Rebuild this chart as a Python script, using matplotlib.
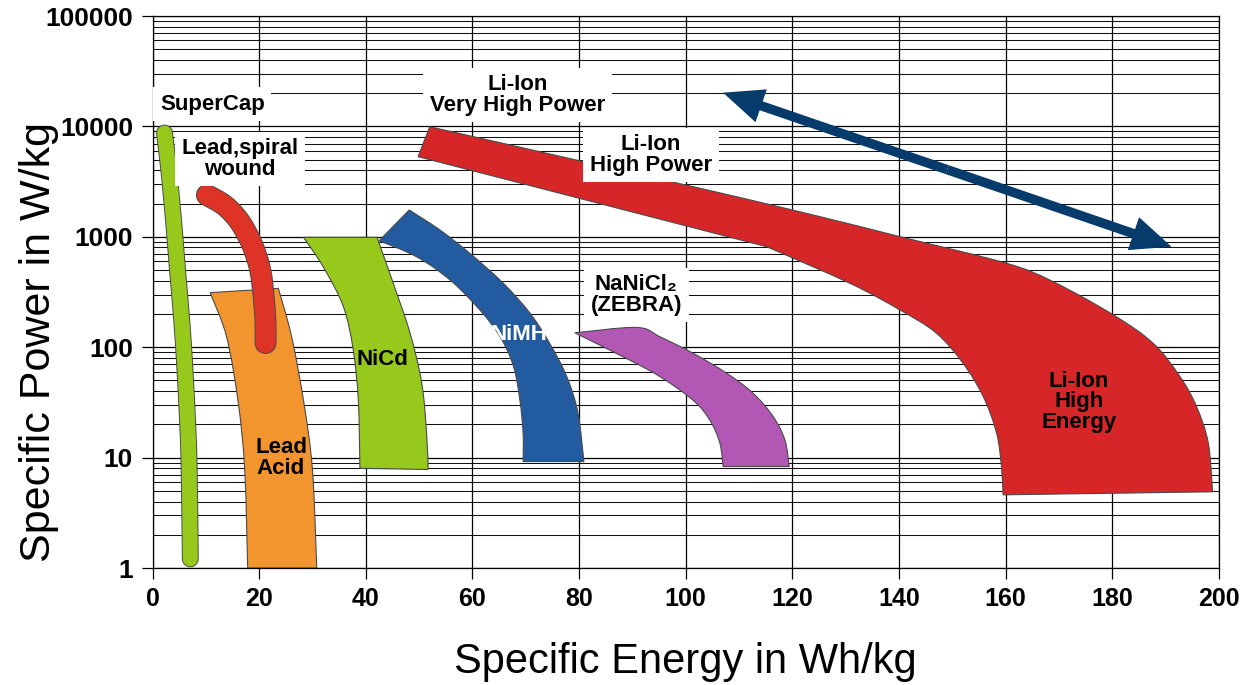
import matplotlib
matplotlib.use("Agg")
import numpy as np
import matplotlib.pyplot as plt
import matplotlib.patheffects as pe
from matplotlib.path import Path
from matplotlib.patches import PathPatch
from matplotlib.ticker import FixedLocator, LogLocator, NullFormatter

plt.rcParams['font.family'] = ['Liberation Sans', 'DejaVu Sans']

# ---- Ragone data: specific energy (Wh/kg) vs specific power (W/kg) ----
# Tube-shaped regions (centre line)
supercap_energy = [2.25, 3.0, 3.6, 4.2, 4.69, 5.5, 6.09, 6.6, 6.88, 7.09]
supercap_power = [8710, 4300, 2155, 1000, 500, 170, 62, 20, 7.7, 1.21]

spiral_energy = [10.2, 13.6, 16.4, 18.7, 20.2, 20.9, 21.2, 21.2]
spiral_power = [2390, 1910, 1360, 845, 500, 268, 159, 109]

# Band-shaped regions: two curved edges joined by straight ends
lead_left_energy = [10.8, 13.9, 16.1, 17.3, 17.85]
lead_left_power = [312, 124, 31, 7.7, 1.0]
lead_right_energy = [30.8, 30.0, 28.4, 26.1, 23.6]
lead_right_power = [1.0, 7.7, 31, 124, 341]

nicd_left_energy = [28.3, 32.0, 35.8, 37.65, 38.6, 38.9]
nicd_left_power = [990, 536, 233, 94, 33, 8.0]
nicd_right_energy = [51.7, 51.4, 50.5, 48.3, 45.15, 42.1]
nicd_right_power = [7.8, 16.6, 47, 134, 379, 990]

nimh_outer_energy = [48.15, 53.9, 59.5, 65.8, 70.8, 74.5, 77.7, 79.8, 80.9]
nimh_outer_power = [1750, 1153, 709, 379, 203, 108, 54, 25.2, 9.2]
nimh_inner_energy = [69.5, 69.5, 68.9, 67.7, 65.2, 61.4, 55.8, 49.5, 42.5]
nimh_inner_power = [9.2, 16.6, 33, 67, 124, 217, 406, 660, 922]

nanicl_outer_energy = [79.2, 90.8, 95.2, 101.4, 107.7, 112.7, 116.4, 118.6, 119.4]
nanicl_outer_power = [135, 151, 124, 88, 58, 38, 23.5, 14.4, 8.3]
nanicl_inner_energy = [107.0, 106.4, 104.5, 101.4, 95.2, 88.9, 79.2]
nanicl_inner_power = [8.3, 13.5, 21.9, 33, 54, 79, 135]

liion_outer_energy = [52.0, 102.7, 125.2, 140.2, 160.2, 168.9, 180.2, 187.7,
                      192.7, 195.8, 198.0, 198.8]
liion_outer_power = [9930, 2750, 1521, 1002, 575, 392, 196, 108,
                     54, 28.9, 13.5, 4.9]
liion_inner_energy = [159.5, 159.2, 158.3, 155.8, 152.0, 147.0, 140.2, 130.8,
                      115.2]
liion_inner_power = [4.6, 8.3, 16.6, 35.6, 71.5, 134, 217, 379, 813]
liion_end_energy = [49.8]
liion_end_power = [5320]

# Double arrow spanning the Li-Ion range
arrow_energy = [107.0, 191.1]
arrow_power = [20200, 813]

# Region labels
label_texts = ["SuperCap", "Lead,spiral\nwound", "Li-Ion\nVery High Power",
               "Li-Ion\nHigh Power", "NaNiCl\u2082\n(ZEBRA)", "NiMH", "NiCd",
               "Lead\nAcid", "Li-Ion\nHigh\nEnergy"]
label_energy = [11.2, 16.4, 68.4, 93.5, 90.7, 68.7, 43.2, 24.1, 173.7]
label_power = [15950, 5070, 19240, 5510, 297, 129, 78, 9.9, 31.9]
label_boxed = [True, True, True, True, True, False, False, False, False]
label_color = ['black'] * 5 + ['white'] + ['black'] * 3

x_ticks = list(range(0, 201, 20))
y_ticks = [1, 10, 100, 1000, 10000, 100000]
y_tick_labels = ["1", "10", "100", "1000", "10000", "100000"]

GREEN = '#97C91D'
ORANGE = '#F3952F'
SPIRAL_RED = '#DE3427'
LIION_RED = '#D72628'
BLUE = '#235BA0'
PURPLE = '#B257B3'
NAVY = '#073B6B'
EDGE = '#4a4a4a'

fig = plt.figure(figsize=(12.48, 6.85), dpi=100)
ax = fig.add_axes([152.5 / 1248, 1 - 568 / 685, (1219 - 152.5) / 1248, (568 - 16) / 685])
ax.set_yscale('log')
ax.set_xlim(0, 200)
ax.set_ylim(1, 100000)

# grid
ax.set_axisbelow(True)
ax.yaxis.set_major_locator(FixedLocator(y_ticks))
ax.yaxis.set_minor_locator(LogLocator(base=10, subs=range(2, 10)))
ax.yaxis.set_minor_formatter(NullFormatter())
ax.grid(which='major', axis='both', color='black', lw=0.9)
ax.grid(which='minor', axis='y', color='#111111', lw=0.75)
ax.tick_params(which='minor', length=0)
ax.tick_params(which='major', length=8, width=0.9, direction='out', pad=6)
for sp in ax.spines.values():
    sp.set_color('black')
    sp.set_linewidth(0.9)

ax.set_xticks(x_ticks, [str(v) for v in x_ticks], fontsize=18, fontweight='bold')
ax.set_yticks(y_ticks, y_tick_labels, fontsize=19, fontweight='bold')

ax.set_xlabel("Specific Energy in Wh/kg", fontsize=30, labelpad=22)
ax.set_ylabel("Specific Power in W/kg", fontsize=31)
ax.yaxis.label.set_va('center')
ax.yaxis.set_label_coords(-0.106, 0.41)


def smooth_curve(energy, power):
    """Cubic Bezier pieces through the given points (uniform Catmull-Rom in
    energy / log-power space)."""
    p = np.column_stack([energy, np.log10(power)])
    n = len(p)
    verts, codes = [], []
    for i in range(n - 1):
        p0, p1, p2, p3 = p[max(i - 1, 0)], p[i], p[i + 1], p[min(i + 2, n - 1)]
        verts += [p1 + (p2 - p0) / 6, p2 - (p3 - p1) / 6, p2]
        codes += [Path.CURVE4] * 3
    return p[0], verts, codes


def to_data(verts):
    v = np.asarray(verts, dtype=float)
    return np.column_stack([v[:, 0], 10 ** v[:, 1]])


def band(edges, color, z=2):
    verts, codes = [], []
    for k, (e, p) in enumerate(edges):
        start, v, c = smooth_curve(e, p)
        verts.append(start)
        codes.append(Path.MOVETO if k == 0 else Path.LINETO)
        verts += v
        codes += c
    verts.append(verts[0])
    codes.append(Path.CLOSEPOLY)
    patch = PathPatch(Path(to_data(verts), codes), facecolor=color,
                      edgecolor=EDGE, linewidth=0.8, zorder=z)
    ax.add_patch(patch)


def tube(energy, power, color, width):
    start, v, c = smooth_curve(energy, power)
    path = Path(to_data([start] + v), [Path.MOVETO] + c)
    patch = PathPatch(path, fill=False, edgecolor=color, linewidth=width,
                      capstyle='round', joinstyle='round', zorder=3,
                      path_effects=[pe.Stroke(linewidth=width + 1.4, foreground=EDGE),
                                    pe.Normal()])
    ax.add_patch(patch)


band([(lead_left_energy, lead_left_power), (lead_right_energy, lead_right_power)], ORANGE)
band([(nicd_left_energy, nicd_left_power), (nicd_right_energy, nicd_right_power)], GREEN)
band([(nimh_outer_energy, nimh_outer_power), (nimh_inner_energy, nimh_inner_power)], BLUE)
band([(nanicl_outer_energy, nanicl_outer_power), (nanicl_inner_energy, nanicl_inner_power)], PURPLE)
band([(liion_outer_energy, liion_outer_power), (liion_inner_energy, liion_inner_power),
      (liion_end_energy, liion_end_power)], LIION_RED)
tube(supercap_energy, supercap_power, GREEN, 10.8)
tube(spiral_energy, spiral_power, SPIRAL_RED, 14.4)

# double-headed arrow drawn as two filled arrows from the midpoint
mid_e = (arrow_energy[0] + arrow_energy[1]) / 2
mid_p = (arrow_power[0] * arrow_power[1]) ** 0.5
for e, p in zip(arrow_energy, arrow_power):
    ax.annotate("", xy=(e, p), xytext=(mid_e, mid_p),
                arrowprops=dict(arrowstyle="simple,head_length=1.45,head_width=1.25,tail_width=0.34",
                                mutation_scale=20, color=NAVY, lw=0,
                                shrinkA=0, shrinkB=0), zorder=5)

for txt, e, p, boxed, col in zip(label_texts, label_energy, label_power,
                                 label_boxed, label_color):
    kw = {}
    if boxed:
        kw['bbox'] = dict(boxstyle='square,pad=0.3', facecolor='white', edgecolor='none')
    ax.text(e, p, txt, ha='center', va='center', fontsize=16, fontweight='bold',
            color=col, linespacing=0.95, zorder=6, **kw)

fig.savefig("out.png", dpi=100)
